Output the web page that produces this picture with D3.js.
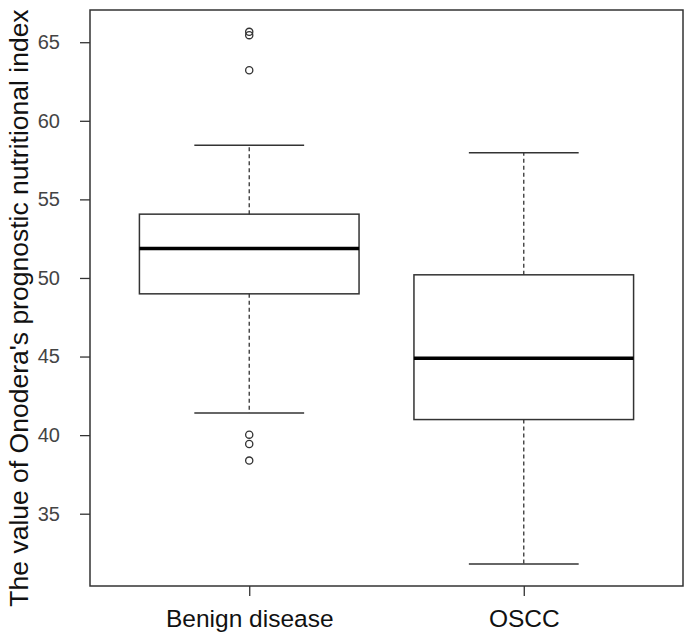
<!DOCTYPE html>
<html>
<head>
<meta charset="utf-8">
<script src="https://cdn.jsdelivr.net/npm/d3@7"></script>
<style>
  html, body { margin: 0; padding: 0; background: #fff; }
  svg { display: block; }
</style>
</head>
<body>
<svg id="chart" width="689" height="640"></svg>
<script>
const categories = ["Benign disease", "OSCC"];
const q1Values = [48.99, 40.99];
const medianValues = [51.88, 44.89];
const q3Values = [54.06, 50.20];
const whiskerLow = [41.41, 31.80];
const whiskerHigh = [58.44, 57.97];
const outlierValues = [[65.66, 65.45, 63.22, 40.03, 39.44, 38.38], []];
const yTicks = [35, 40, 45, 50, 55, 60, 65];
const yTitle = "The value of Onodera's prognostic nutritional index";

const W = 689, H = 640;
const margin = { left: 90, top: 10, right: 6, bottom: 54 };
const plotW = W - margin.left - margin.right;
const plotH = H - margin.top - margin.bottom;

const svg = d3.select("#chart");
const g = svg.append("g").attr("transform", `translate(${margin.left},${margin.top})`);

const x = d3.scaleLinear().domain([0.42, categories.length + 0.58]).range([0, plotW]);
const y = d3.scaleLinear().domain([30.4, 67.05]).range([plotH, 0]);

const boxW = x(1.4) - x(0.6);
const capW = boxW / 2;
const stroke = "#333";
const font = "Liberation Sans, Arial, sans-serif";

categories.forEach((c, i) => {
  const cx = x(i + 1);
  const grp = g.append("g");
  grp.append("line").attr("x1", cx).attr("x2", cx)
    .attr("y1", y(q3Values[i])).attr("y2", y(whiskerHigh[i]))
    .attr("stroke", stroke).attr("stroke-width", 1.3).attr("stroke-dasharray", "4,3");
  grp.append("line").attr("x1", cx).attr("x2", cx)
    .attr("y1", y(q1Values[i])).attr("y2", y(whiskerLow[i]))
    .attr("stroke", stroke).attr("stroke-width", 1.3).attr("stroke-dasharray", "4,3");
  [whiskerHigh[i], whiskerLow[i]].forEach(v => {
    grp.append("line").attr("x1", cx - capW / 2).attr("x2", cx + capW / 2)
      .attr("y1", y(v)).attr("y2", y(v))
      .attr("stroke", stroke).attr("stroke-width", 1.5);
  });
  grp.append("rect").attr("x", cx - boxW / 2).attr("width", boxW)
    .attr("y", y(q3Values[i])).attr("height", y(q1Values[i]) - y(q3Values[i]))
    .attr("fill", "none").attr("stroke", stroke).attr("stroke-width", 1.5);
  grp.append("line").attr("x1", cx - boxW / 2).attr("x2", cx + boxW / 2)
    .attr("y1", y(medianValues[i])).attr("y2", y(medianValues[i]))
    .attr("stroke", "#000").attr("stroke-width", 3.5);
  outlierValues[i].forEach(v => {
    grp.append("circle").attr("cx", cx).attr("cy", y(v)).attr("r", 3.6)
      .attr("fill", "none").attr("stroke", stroke).attr("stroke-width", 1.3);
  });
});

g.append("rect").attr("x", 0).attr("y", 0).attr("width", plotW).attr("height", plotH)
  .attr("fill", "none").attr("stroke", stroke).attr("stroke-width", 1.5);

const yAxis = g.append("g").call(d3.axisLeft(y).tickValues(yTicks).tickSize(10).tickPadding(20).tickFormat(d3.format("d")));
yAxis.select(".domain").remove();
yAxis.selectAll(".tick line").attr("stroke", stroke).attr("stroke-width", 1.3);
yAxis.selectAll(".tick text").attr("fill", "#444").style("font-family", font).style("font-size", "20px");

const xAxis = g.append("g").attr("transform", `translate(0,${plotH})`)
  .call(d3.axisBottom(x).tickValues(categories.map((c, i) => i + 1)).tickSize(10).tickPadding(14)
    .tickFormat((d) => categories[d - 1]));
xAxis.select(".domain").remove();
xAxis.selectAll(".tick line").attr("stroke", stroke).attr("stroke-width", 1.3);
xAxis.selectAll(".tick text").attr("fill", "#111").style("font-family", font).style("font-size", "24.5px");

svg.append("text")
  .attr("transform", `translate(28,${308}) rotate(-90)`)
  .attr("text-anchor", "middle")
  .style("font-family", font)
  .style("font-size", "26.5px")
  .attr("fill", "#111")
  .text(yTitle);
</script>
</body>
</html>
